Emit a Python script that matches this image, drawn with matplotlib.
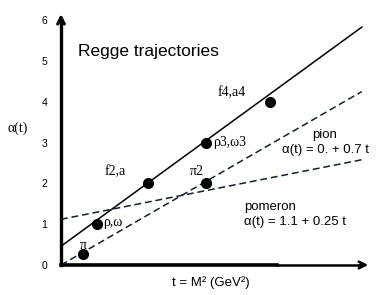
#!/usr/bin/env python
# -*- coding:utf-8 -*-

# Regge trajectories sketch

import matplotlib
matplotlib.use('Agg')
import matplotlib.pyplot as plt

# resonances: (t, alpha)
meson_t = [0.43, 0.70, 1.70, 2.85, 4.10]
meson_alpha = [0.28, 1.00, 2.00, 3.00, 4.00]
meson_names = ['π', 'ρ,ω', 'f2,a', 'ρ3,ω3', 'f4,a4']
pion2_t = [2.85]
pion2_alpha = [2.00]

# trajectory ends
line_t = [0.0, 5.9]
rho_alpha = [0.46, 5.83]
pion_alpha = [0.0, 4.25]
pomeron_alpha = [1.12, 2.58]

y_ticks = [0, 1, 2, 3, 4, 5, 6]

plt.rcParams['font.family'] = ['Liberation Sans', 'DejaVu Sans']

fig = plt.figure(figsize=(3.82, 2.95), dpi=100)
ax = fig.add_axes([61 / 382, 30 / 295, 311 / 382, 253 / 295])
ax.set_xlim(0, 6.1)
ax.set_ylim(0, 6.2)

for s in ax.spines.values():
	s.set_visible(False)
ax.set_xticks([])
ax.set_yticks(y_ticks)
ax.tick_params(axis='y', length=0, pad=10, labelsize=7.5)

# trajectories
ax.plot(line_t, rho_alpha, color='black', lw=1.1)
ax.plot(line_t, pion_alpha, color='#102030', lw=1.1, ls=(0, (4.5, 2.5)))
ax.plot(line_t, pomeron_alpha, color='#102030', lw=1.1, ls=(0, (4.5, 2.5)))

ax.plot(meson_t, meson_alpha, 'o', color='black', ms=7, clip_on=False)
ax.plot(pion2_t, pion2_alpha, 'o', color='black', ms=7, clip_on=False)

# axes with arrows
ax.plot([0, 0], [0, 6.0], color='black', lw=2.4, clip_on=False)
ax.annotate('', xy=(0, 6.22), xytext=(0, 5.9),
			arrowprops=dict(arrowstyle='->', lw=2.2, color='black', mutation_scale=12),
			annotation_clip=False)
ax.plot([0, 4.23], [0, 0], color='black', lw=2.6, clip_on=False)
ax.plot([4.23, 5.9], [0, 0], color='black', lw=1.8, clip_on=False)
ax.annotate('', xy=(6.08, 0), xytext=(5.8, 0),
			arrowprops=dict(arrowstyle='->', lw=1.8, color='black', mutation_scale=12),
			annotation_clip=False)

serif = ['Liberation Serif', 'DejaVu Serif']
sfs = 10
ax.text(0.36, 0.49, meson_names[0], family=serif, fontsize=sfs, va='center')
ax.text(0.82, 1.03, meson_names[1], family=serif, fontsize=sfs, va='center')
ax.text(0.86, 2.28, meson_names[2], family=serif, fontsize=sfs, va='center')
ax.text(2.53, 2.30, 'π2', family=serif, fontsize=sfs, va='center')
ax.text(2.98, 2.99, meson_names[3], family=serif, fontsize=sfs, va='center')
ax.text(3.08, 4.22, meson_names[4], family=serif, fontsize=sfs, va='center')

ax.text(0.33, 5.22, 'Regge trajectories', fontsize=12.5, va='center')
ax.text(4.92, 3.19, 'pion', fontsize=9.5, va='center')
ax.text(4.33, 2.82, 'α(t) = 0. + 0.7 t', fontsize=9.5, va='center')
ax.text(3.59, 1.42, 'pomeron', fontsize=9.5, va='center')
ax.text(3.59, 1.05, 'α(t) = 1.1 + 0.25 t', fontsize=9.5, va='center')

fig.text(8 / 382, 1 - 128 / 295, 'α(t)', fontsize=10, va='center', family=serif)
fig.text(211 / 382, 1 - 283 / 295, 't = M² (GeV²)', fontsize=9.5, va='center', ha='center')

fig.savefig('out.png', dpi=100)
